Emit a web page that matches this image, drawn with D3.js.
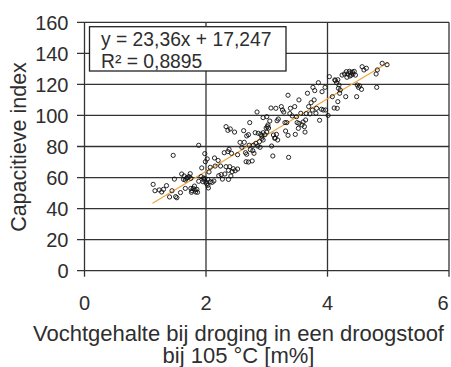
<!DOCTYPE html>
<html>
<head>
<meta charset="utf-8">
<script src="https://cdn.jsdelivr.net/npm/d3@7/dist/d3.min.js"></script>
<style>
  html, body { margin: 0; padding: 0; background: #fff; }
  svg text { font-family: "Liberation Sans", Arial, sans-serif; fill: #2e2e2e; }
</style>
</head>
<body>
<svg id="chart" width="451" height="367"></svg>
<script>
// Moisture content (oven drying at 105 °C, m%) versus capacitive index
const moisture = [
  1.13, 1.16, 1.23, 1.27, 1.30, 1.35, 1.40, 1.44, 1.46, 1.48, 1.50, 1.52, 1.58, 1.60, 1.64,
  1.63, 1.66, 1.68, 1.72, 1.74, 1.75, 1.75, 1.76, 1.79, 1.81, 1.83, 1.85, 1.86, 1.88, 1.88,
  1.92, 1.93, 1.95, 1.97, 1.98, 1.98, 1.99, 2.00, 2.01, 2.02, 2.03, 2.03, 2.04, 2.05, 2.07,
  2.07, 2.10, 2.13, 2.14, 2.15, 2.20, 2.21, 2.24, 2.25, 2.27, 2.30, 2.31, 2.33, 2.33, 2.36,
  2.36, 2.37, 2.37, 2.38, 2.39, 2.40, 2.41, 2.42, 2.43, 2.45, 2.47, 2.48, 2.52, 2.52, 2.56,
  2.59, 2.62, 2.63, 2.65, 2.66, 2.67, 2.67, 2.70, 2.70, 2.71, 2.72, 2.73, 2.76, 2.77, 2.78,
  2.79, 2.81, 2.82, 2.84, 2.85, 2.86, 2.88, 2.89, 2.90, 2.92, 2.94, 2.94, 2.97, 2.99, 3.00,
  3.01, 3.03, 3.05, 3.07, 3.08, 3.10, 3.11, 3.14, 3.15, 3.16, 3.17, 3.18, 3.19, 3.24, 3.26,
  3.28, 3.30, 3.31, 3.33, 3.35, 3.35, 3.36, 3.38, 3.39, 3.42, 3.46, 3.47, 3.49, 3.50, 3.52,
  3.53, 3.53, 3.56, 3.58, 3.60, 3.62, 3.63, 3.64, 3.65, 3.67, 3.69, 3.71, 3.73, 3.75, 3.76,
  3.78, 3.79, 3.81, 3.82, 3.85, 3.87, 3.90, 3.91, 3.93, 3.96, 3.97, 4.01, 4.03, 4.08, 4.11,
  4.12, 4.15, 4.16, 4.17, 4.18, 4.19, 4.20, 4.21, 4.24, 4.28, 4.30, 4.31, 4.32, 4.33, 4.36,
  4.37, 4.38, 4.39, 4.41, 4.42, 4.44, 4.46, 4.48, 4.49, 4.51, 4.53, 4.56, 4.57, 4.60, 4.64,
  4.80, 4.81, 4.82, 4.90, 4.98,
  1.77, 1.82, 1.96, 1.66, 1.69, 2.92, 2.94, 3.00, 3.02, 3.13, 4.13, 4.17
];
const capIndex = [
  55.6, 51.5, 52.0, 50.7, 52.4, 54.8, 47.5, 51.5, 74.3, 59.0, 47.7, 47.0, 50.3, 62.3, 61.0,
  58.8, 53.0, 59.5, 60.6, 62.5, 59.5, 53.0, 50.5, 53.0, 54.5, 50.7, 52.4, 50.5, 80.8, 57.6,
  60.6, 66.2, 57.3, 58.4, 59.3, 75.4, 70.2, 57.1, 56.0, 72.0, 58.8, 55.0, 53.3, 63.6, 66.6,
  57.3, 56.9, 57.8, 72.6, 67.4, 71.0, 61.2, 67.4, 61.9, 59.0, 76.0, 62.3, 92.8, 67.0, 90.4,
  76.7, 58.8, 64.6, 78.2, 67.0, 91.3, 61.0, 75.6, 63.8, 65.7, 89.3, 64.4, 74.7, 65.5, 82.7,
  79.5, 90.2, 82.7, 76.0, 70.2, 86.8, 75.0, 87.6, 70.0, 80.8, 95.4, 78.0, 70.7, 77.3, 80.8,
  75.6, 88.9, 82.0, 102.2, 80.3, 88.5, 83.1, 79.5, 87.8, 86.8, 98.6, 84.2, 87.6, 91.9, 99.2,
  92.8, 91.9, 96.4, 104.8, 80.3, 73.9, 87.4, 85.5, 104.6, 87.8, 96.6, 84.2, 97.7, 105.7, 103.5,
  102.2, 95.4, 90.0, 95.4, 113.0, 87.2, 73.0, 101.2, 104.6, 99.7, 105.7, 87.8, 99.2, 95.4, 91.7,
  110.0, 94.9, 101.4, 93.9, 95.8, 92.8, 89.3, 97.1, 101.2, 114.3, 105.7, 101.0, 108.2, 103.5, 118.1,
  110.0, 116.0, 101.4, 104.6, 121.1, 96.9, 104.0, 115.3, 103.5, 118.1, 103.5, 100.0, 125.0, 112.1, 104.8,
  122.9, 121.1, 104.6, 108.9, 117.5, 119.6, 114.3, 116.4, 126.0, 126.7, 112.1, 128.2, 124.6, 126.7, 128.4,
  125.4, 127.5, 126.0, 128.0, 126.7, 128.4, 126.0, 112.1, 119.6, 118.1, 119.0, 116.8, 131.4, 129.3, 130.4,
  126.7, 118.1, 129.3, 133.6, 132.7,
  51.5, 52.0, 59.7, 58.4, 60.0, 85.3, 88.9, 89.3, 93.9, 85.3, 122.5, 123.0
];

// Linear trend: y = 23,36x + 17,247 (R² = 0,8895)
const slope = 23.36;
const intercept = 17.247;
const trendRange = [1.12, 5.0];
const trendLabels = ["y = 23,36x + 17,247", "R² = 0,8895"];

const xTicks = [0, 2, 4, 6];
const yTicks = [0, 20, 40, 60, 80, 100, 120, 140, 160];
const xTitle = ["Vochtgehalte bij droging in een droogstoof", "bij 105 °C [m%]"];
const yTitle = "Capacitieve index";

const W = 451;
const svg = d3.select("#chart");
const x = d3.scaleLinear().domain([0, 6]).range([84.5, 449]);
const y = d3.scaleLinear().domain([0, 160]).range([270.7, 22.3]);
const gridColor = "#333";

// horizontal gridlines, including the short tick stubs on the left
svg.append("g").selectAll("line").data(yTicks).join("line")
  .attr("x1", x(0) - 7.5).attr("x2", x(6))
  .attr("y1", d => y(d)).attr("y2", d => y(d))
  .attr("stroke", gridColor).attr("stroke-width", 1.3);

// vertical gridlines, extending below the axis as ticks
svg.append("g").selectAll("line").data(xTicks).join("line")
  .attr("x1", d => x(d)).attr("x2", d => x(d))
  .attr("y1", y(160)).attr("y2", y(0) + 6)
  .attr("stroke", gridColor).attr("stroke-width", 1.3);

// tick labels (the last x label is kept inside the canvas)
svg.append("g").selectAll("text").data(yTicks).join("text")
  .attr("x", x(0) - 16).attr("y", d => y(d)).attr("dy", "0.36em")
  .attr("text-anchor", "end").attr("font-size", 20)
  .text(d => d);
svg.append("g").selectAll("text").data(xTicks).join("text")
  .attr("x", d => Math.min(x(d), W - 8)).attr("y", 310)
  .attr("text-anchor", "middle").attr("font-size", 20)
  .text(d => d);

// axis titles
svg.append("text")
  .attr("transform", "translate(26,147) rotate(-90)")
  .attr("text-anchor", "middle").attr("font-size", 21.5)
  .text(yTitle);
svg.append("g").selectAll("text").data(xTitle).join("text")
  .attr("x", 238.5).attr("y", (d, i) => 340.5 + i * 22.5)
  .attr("text-anchor", "middle").attr("font-size", 22)
  .text(d => d);

// trend line
svg.append("line")
  .attr("x1", x(trendRange[0])).attr("y1", y(slope * trendRange[0] + intercept))
  .attr("x2", x(trendRange[1])).attr("y2", y(slope * trendRange[1] + intercept))
  .attr("stroke", "#f2a33a").attr("stroke-width", 1.2);

// data points
svg.append("g").selectAll("circle").data(d3.range(moisture.length)).join("circle")
  .attr("cx", i => x(moisture[i])).attr("cy", i => y(capIndex[i]))
  .attr("r", 2.1)
  .attr("fill", "none").attr("stroke", "#111").attr("stroke-width", 0.9);

// equation box
const box = svg.append("g");
box.append("rect")
  .attr("x", 89.5).attr("y", 26.7).attr("width", 196.5).attr("height", 44.3)
  .attr("fill", "#fff").attr("stroke", "#222").attr("stroke-width", 1.3);
box.selectAll("text").data(trendLabels).join("text")
  .attr("x", 101).attr("y", (d, i) => 46 + i * 22)
  .attr("font-size", 19.3)
  .text(d => d);
</script>
</body>
</html>
